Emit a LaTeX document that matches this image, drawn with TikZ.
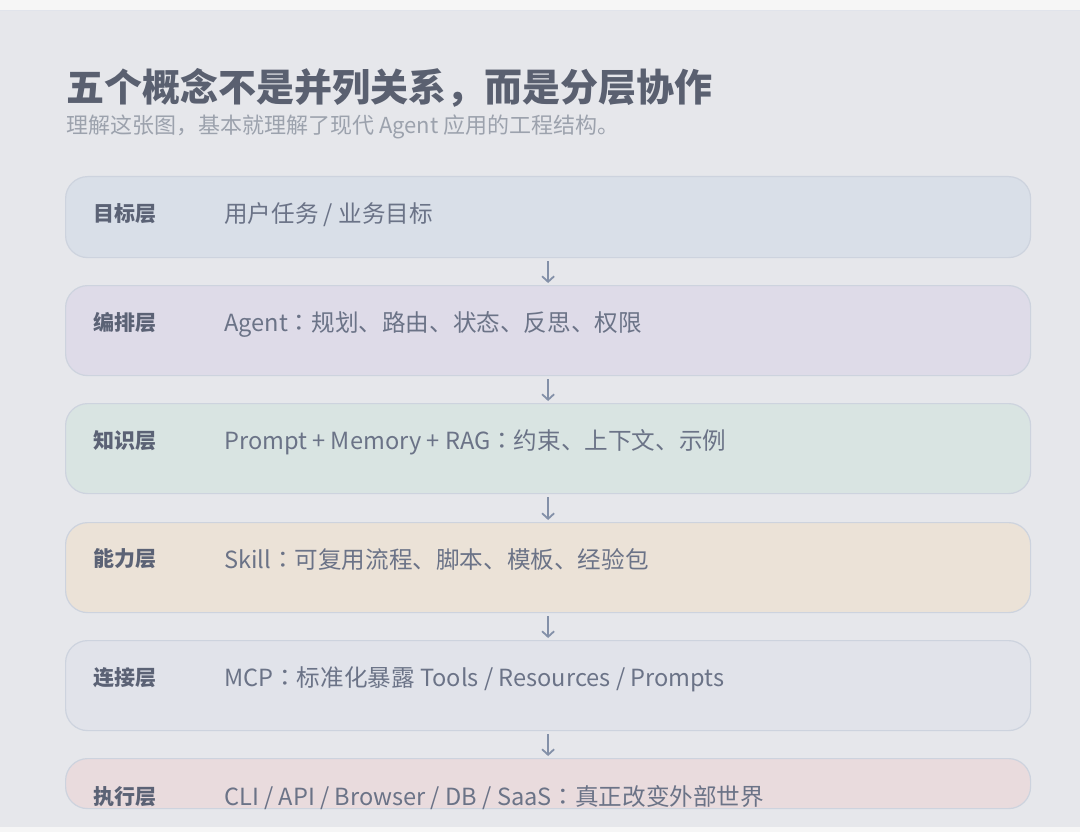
\documentclass[tikz,border=0pt]{standalone}
\usepackage{fontspec}
\setmainfont{Noto Sans CJK SC}
\newfontfamily\jpcolon{Noto Sans CJK JP}
\newcommand{\zcolon}{{\jpcolon ：}}
\usetikzlibrary{arrows.meta}
\definecolor{pagebg}{HTML}{E6E7EB}
\definecolor{topbg}{HTML}{F6F6F6}
\definecolor{edge}{HTML}{CDD3DE}
\definecolor{titlec}{HTML}{5A6070}
\definecolor{subc}{HTML}{9CA2AD}
\definecolor{labc}{HTML}{5B6275}
\definecolor{bodyc}{HTML}{6B7387}
\definecolor{arrc}{HTML}{8390A8}
\definecolor{fa}{HTML}{D9DFE8}
\definecolor{fb}{HTML}{DEDBE8}
\definecolor{fc}{HTML}{D9E4E2}
\definecolor{fd}{HTML}{EBE2D7}
\definecolor{fe}{HTML}{E1E3EA}
\definecolor{ff}{HTML}{E9DBDD}
\tikzset{
  layer/.style={draw=edge, line width=1.2pt, rounded corners=22pt, minimum width=965pt, inner sep=0pt, anchor=north west},
  lab/.style={anchor=west, inner sep=0pt, text=labc, font=\fontsize{21}{24}\selectfont\bfseries},
  body/.style={anchor=west, inner sep=0pt, text=bodyc, font=\fontsize{23.6}{27}\selectfont},
  arr/.style={draw=arrc, line width=1.8pt, -{Straight Barb[length=5.5pt,width=12pt,line width=1.8pt]}}
}
\begin{document}
\begin{tikzpicture}[x=1pt,y=-1pt]
\useasboundingbox (0,0) rectangle (1080,832);
\fill[topbg] (0,0) rectangle (1080,10);
\fill[pagebg] (0,10) rectangle (1080,827);
\draw[edge!60, line width=0.8pt] (0,10) -- (1080,10);
\fill[topbg] (0,827) rectangle (1080,832);
\node[anchor=west, inner sep=0pt, text=titlec, font=\fontsize{38}{42}\selectfont\bfseries] (title) at (66,88) {五个概念不是并列关系，而是分层协作};
\node[anchor=west, inner sep=0pt, text=subc, font=\fontsize{22}{25}\selectfont] (sub) at (66,127) {理解这张图，基本就理解了现代 Agent 应用的工程结构。};

\node[layer, fill=fa, minimum height=81pt] (b1) at (65,176) {};
\node[layer, fill=fb, minimum height=90pt] (b2) at (65,285) {};
\node[layer, fill=fc, minimum height=90pt] (b3) at (65,403) {};
\node[layer, fill=fd, minimum height=90pt] (b4) at (65,522) {};
\node[layer, fill=fe, minimum height=90pt] (b5) at (65,640) {};
\node[layer, fill=ff, minimum height=50pt] (b6) at (65,758) {};

\node[lab] (l1) at (93,214) {目标层};
\node[body] (t1) at (224,215) {用户任务 / 业务目标};
\node[lab] (l2) at (93,323) {编排层};
\node[body] (t2) at (224,324) {Agent\zcolon 规划、路由、状态、反思、权限};
\node[lab] (l3) at (93,441) {知识层};
\node[body] (t3) at (224,442) {Prompt + Memory + RAG\zcolon 约束、上下文、示例};
\node[lab] (l4) at (93,559) {能力层};
\node[body] (t4) at (224,560) {Skill\zcolon 可复用流程、脚本、模板、经验包};
\node[lab] (l5) at (93,678) {连接层};
\node[body] (t5) at (224,679) {MCP\zcolon 标准化暴露 Tools / Resources / Prompts};
\node[lab] (l6) at (93,797) {执行层};
\node[body] (t6) at (224,798) {CLI / API / Browser / DB / SaaS\zcolon 真正改变外部世界};

\draw[arr] ([yshift=-3pt]b1.south) -- ([yshift=2pt]b2.north);
\draw[arr] ([yshift=-3pt]b2.south) -- ([yshift=2pt]b3.north);
\draw[arr] ([yshift=-3pt]b3.south) -- ([yshift=2pt]b4.north);
\draw[arr] ([yshift=-3pt]b4.south) -- ([yshift=2pt]b5.north);
\draw[arr] ([yshift=-3pt]b5.south) -- ([yshift=2pt]b6.north);
\end{tikzpicture}
\end{document}
